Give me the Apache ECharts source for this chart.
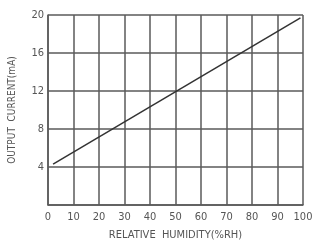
<!DOCTYPE html>
<html>
<head>
<meta charset="utf-8">
<script src="https://cdn.jsdelivr.net/npm/echarts@6/dist/echarts.min.js"></script>
<style>
  html, body { margin: 0; padding: 0; background: #fff; }
  #chart { width: 315px; height: 244px; }
</style>
</head>
<body>
<div id="chart"></div>
<script>
  // humidity (%RH) vs output current (mA)
  const humidity = [2, 99];
  const current = [4.3, 19.7];
  const xTicks = [0, 10, 20, 30, 40, 50, 60, 70, 80, 90, 100];
  const yTicks = [4, 8, 12, 16, 20];

  const gridColor = '#5a5a5a';
  const textColor = '#555';
  const font = 'DejaVu Sans Condensed';

  const chart = echarts.init(document.getElementById('chart'));

  chart.setOption({
    animation: false,
    grid: { left: 48, right: 12, top: 15, bottom: 39, outerBoundsMode: 'none' },
    xAxis: {
      type: 'value',
      min: 0,
      max: 100,
      interval: 10,
      name: 'RELATIVE  HUMIDITY(%RH)',
      nameLocation: 'middle',
      nameGap: 25,
      nameTextStyle: { color: textColor, fontSize: 11, fontFamily: font },
      axisLine: { show: true, lineStyle: { color: gridColor, width: 1.5 } },
      axisTick: { show: false },
      axisLabel: {
        color: textColor,
        fontSize: 11,
        fontFamily: font,
        margin: 7,
        formatter: (v) => (xTicks.includes(v) ? String(v) : ''),
      },
      splitLine: { show: true, lineStyle: { color: gridColor, width: 1.5 } },
    },
    yAxis: {
      type: 'value',
      min: 0,
      max: 20,
      interval: 4,
      name: 'OUTPUT  CURRENT(mA)',
      nameLocation: 'middle',
      nameGap: 31,
      nameTextStyle: { color: textColor, fontSize: 10, fontFamily: font },
      axisLine: { show: true, lineStyle: { color: gridColor, width: 1.5 } },
      axisTick: { show: false },
      axisLabel: {
        color: textColor,
        fontSize: 11,
        fontFamily: font,
        margin: 4,
        formatter: (v) => (yTicks.includes(v) ? String(v) : ''),
      },
      splitLine: { show: true, lineStyle: { color: gridColor, width: 1.5 } },
    },
    series: [
      {
        type: 'line',
        data: humidity.map((h, i) => [h, current[i]]),
        symbol: 'none',
        lineStyle: { color: '#333', width: 1.5 },
      },
    ],
  });
</script>
</body>
</html>
